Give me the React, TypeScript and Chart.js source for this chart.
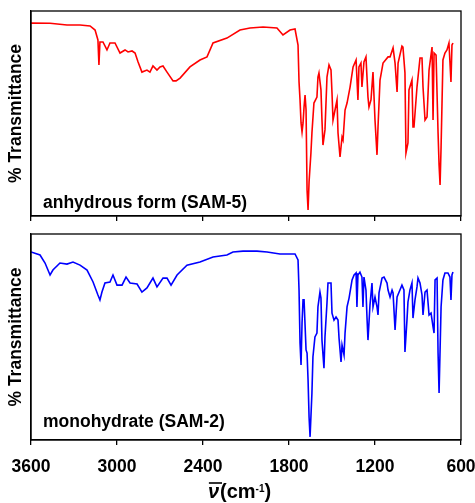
import React, { useEffect, useRef } from "react";
import { Chart, registerables } from "chart.js";

Chart.register(...registerables);

const FONT = "'Liberation Sans', Arial, sans-serif";

const xTickLabels = [3600, 3000, 2400, 1800, 1200, 600];
const xMin = 600;
const xMax = 3600;

const anhydrousLabel = "anhydrous form (SAM-5)";
const monohydrateLabel = "monohydrate (SAM-2)";
const yTitle = "% Transmittance";

// Anhydrous form (SAM-5) — wavenumber (cm-1) and % transmittance (arbitrary scale 0-100)
const anhydrousWavenumber = [
  3600, 3467, 3349, 3258, 3188, 3153, 3133, 3126, 3119, 3098, 3070, 3049, 3014, 2979, 2944, 2923,
  2895, 2874, 2853, 2826, 2791, 2770, 2749, 2721, 2700, 2679, 2651, 2609, 2588, 2560, 2491, 2421,
  2372, 2330, 2233, 2142, 2072, 1981, 1884, 1842, 1793, 1758, 1737, 1730, 1723, 1716, 1709, 1702,
  1695, 1688, 1681, 1674, 1667, 1660, 1647, 1640, 1626, 1605, 1598, 1591, 1577, 1570, 1563, 1549,
  1535, 1521, 1507, 1500, 1493, 1479, 1465, 1458, 1444, 1430, 1423, 1409, 1395, 1374, 1353, 1332,
  1319, 1312, 1298, 1291, 1277, 1263, 1249, 1242, 1228, 1214, 1200, 1186, 1179, 1165, 1144, 1109,
  1095, 1074, 1060, 1046, 1039, 1012, 1005, 991, 984, 970, 963, 942, 935, 928, 907, 886,
  872, 865, 851, 837, 823, 802, 795, 788, 774, 760, 753, 746, 739, 726, 712, 698,
  684, 670, 663, 656,
];
const anhydrousT = [
  94.1, 94.0, 93.2, 93.2, 92.7, 90.7, 85.9, 73.7, 84.9, 84.9, 81.0, 84.4, 84.4, 79.5, 81.0, 80.0,
  80.5, 79.5, 75.1, 70.2, 71.2, 70.2, 73.2, 71.2, 72.7, 73.2, 70.2, 65.9, 65.9, 67.3, 72.7, 76.1,
  77.6, 84.4, 86.8, 90.7, 91.7, 92.2, 91.7, 88.3, 90.7, 91.2, 83.4, 65.4, 56.6, 45.4, 41.0, 45.4,
  53.2, 59.0, 51.7, 12.7, 2.9, 16.6, 30.7, 40.5, 55.1, 58.0, 67.8, 69.8, 61.5, 46.8, 34.6, 42.0,
  67.8, 73.7, 71.2, 60.0, 46.8, 51.7, 56.6, 40.5, 28.8, 38.5, 37.1, 51.7, 55.1, 62.9, 72.7, 76.1,
  56.6, 72.7, 74.6, 62.9, 75.1, 77.6, 58.0, 53.2, 56.6, 70.2, 46.8, 29.8, 43.4, 66.3, 74.6, 77.6,
  77.6, 82.0, 74.6, 60.5, 74.6, 82.9, 82.4, 69.8, 30.7, 35.6, 61.5, 66.3, 43.4, 43.4, 62.9, 77.1,
  77.1, 62.9, 46.8, 48.3, 71.2, 82.4, 46.8, 79.5, 78.5, 40.5, 24.9, 15.1, 33.7, 76.1, 79.5, 81.0,
  84.4, 65.4, 83.4, 84.4,
];

// Monohydrate (SAM-2)
const monohydrateWavenumber = [
  3600, 3537, 3502, 3467, 3447, 3398, 3349, 3307, 3258, 3209, 3167, 3133, 3119, 3105, 3084, 3049,
  3028, 3000, 2965, 2937, 2909, 2860, 2826, 2791, 2749, 2721, 2679, 2651, 2623, 2581, 2512, 2421,
  2330, 2233, 2191, 2121, 2023, 1953, 1863, 1758, 1737, 1730, 1723, 1716, 1709, 1702, 1695, 1681,
  1674, 1667, 1660, 1653, 1640, 1633, 1619, 1605, 1598, 1584, 1577, 1570, 1556, 1549, 1535, 1528,
  1507, 1500, 1486, 1472, 1458, 1451, 1437, 1430, 1416, 1409, 1395, 1381, 1360, 1346, 1332, 1326,
  1319, 1305, 1291, 1284, 1277, 1263, 1256, 1249, 1235, 1221, 1214, 1200, 1186, 1179, 1172, 1151,
  1137, 1116, 1109, 1095, 1081, 1074, 1060, 1053, 1046, 1026, 1012, 998, 991, 977, 970, 956,
  942, 935, 921, 907, 900, 886, 872, 865, 851, 837, 823, 809, 795, 788, 781, 767,
  760, 753, 739, 726, 712, 691, 677, 670, 663, 656,
];
const monohydrateT = [
  91.3, 89.8, 85.9, 80.1, 82.5, 85.9, 85.4, 86.4, 84.9, 82.5, 76.7, 70.4, 68.0, 71.8, 76.2, 76.7,
  80.1, 75.2, 75.2, 79.1, 76.2, 75.7, 71.8, 73.8, 78.6, 74.3, 78.6, 78.6, 75.2, 80.1, 84.9, 86.4,
  88.8, 89.8, 91.3, 91.7, 91.7, 91.3, 90.3, 90.3, 87.4, 72.8, 47.1, 36.4, 56.8, 68.0, 68.0, 43.7,
  42.2, 29.1, 11.2, 1.5, 22.8, 40.3, 50.0, 51.9, 64.6, 71.8, 68.9, 48.5, 34.9, 50.0, 66.5, 76.2,
  76.2, 61.6, 58.2, 59.7, 58.2, 49.5, 37.9, 46.1, 41.3, 51.9, 64.6, 68.9, 77.7, 80.1, 81.1, 64.6,
  80.1, 81.5, 79.1, 64.6, 79.1, 72.8, 59.7, 48.5, 65.5, 76.2, 64.6, 69.4, 64.6, 60.7, 71.4, 78.6,
  79.1, 76.2, 72.8, 69.4, 72.8, 71.4, 53.4, 61.6, 69.4, 72.8, 75.2, 72.8, 42.7, 58.2, 67.0, 72.8,
  76.2, 59.2, 68.0, 74.3, 78.6, 76.2, 70.4, 60.7, 71.8, 72.8, 60.7, 61.6, 54.9, 51.9, 77.7, 78.6,
  42.2, 22.8, 64.6, 77.7, 81.1, 81.1, 79.1, 68.0, 80.1, 81.5,
];

type PanelProps = {
  wavenumbers: number[];
  values: number[];
  color: string;
  label: string;
  width: number;
  height: number;
  padTop: number;
  xAxisHeight: number;
  showTickLabels: boolean;
  labelOffset: number;
  showXTitle: boolean;
};

function Panel(props: PanelProps) {
  const ref = useRef<HTMLCanvasElement | null>(null);
  useEffect(() => {
    const canvas = ref.current;
    if (!canvas) return;
    const data = props.wavenumbers.map((w, i) => ({ x: w, y: props.values[i] }));

    const overlay = {
      id: "overlay",
      afterDraw(chart: any) {
        const { ctx, chartArea } = chart;
        ctx.save();
        ctx.strokeStyle = "#000";
        ctx.lineWidth = 1.3;
        ctx.strokeRect(chartArea.left, chartArea.top, chartArea.right - chartArea.left, chartArea.bottom - chartArea.top);
        ctx.fillStyle = "#000";
        ctx.font = `bold 17.5px ${FONT}`;
        ctx.textAlign = "left";
        ctx.textBaseline = "alphabetic";
        ctx.fillText(props.label, chartArea.left + 12, chartArea.bottom - props.labelOffset);
        if (props.showXTitle) {
          const baseline = chartArea.bottom + 58;
          const centerX = (chartArea.left + chartArea.right) / 2 - 6.5;
          const fItal = `italic bold 20px ${FONT}`;
          const fMain = `bold 20px ${FONT}`;
          const fSup = `bold 10px ${FONT}`;
          ctx.font = fItal;
          const wNu = ctx.measureText("\u03bd").width;
          ctx.font = fMain;
          const wA = ctx.measureText("(cm").width;
          const wC = ctx.measureText(")").width;
          ctx.font = fSup;
          const wB = ctx.measureText("-1").width;
          const total = wNu + 1 + wA + wB + wC;
          let x = centerX - total / 2;
          ctx.font = fItal;
          ctx.fillText("\u03bd", x, baseline);
          ctx.beginPath();
          ctx.lineWidth = 1.6;
          ctx.moveTo(x + 1, baseline - 15);
          ctx.lineTo(x + wNu + 3, baseline - 15);
          ctx.stroke();
          x += wNu + 1;
          ctx.font = fMain;
          ctx.fillText("(cm", x, baseline);
          x += wA;
          ctx.font = fSup;
          ctx.fillText("-1", x, baseline - 6);
          x += wB;
          ctx.font = fMain;
          ctx.fillText(")", x, baseline);
        }
        ctx.restore();
      },
    };

    const chart = new Chart(canvas, {
      type: "line",
      data: {
        datasets: [
          {
            data,
            borderColor: props.color,
            borderWidth: 1.6,
            pointRadius: 0,
            tension: 0,
            fill: false,
          },
        ],
      },
      options: {
        responsive: false,
        animation: false,
        devicePixelRatio: 1,
        layout: { padding: { top: props.padTop, right: 14, left: 0, bottom: 0 } },
        plugins: { legend: { display: false }, tooltip: { enabled: false } },
        scales: {
          x: {
            type: "linear",
            reverse: true,
            min: xMin,
            max: xMax,
            afterFit: (axis: any) => {
              axis.height = props.xAxisHeight;
              axis.paddingLeft = 0;
              axis.paddingRight = 0;
            },
            ticks: {
              display: props.showTickLabels,
              stepSize: 600,
              autoSkip: false,
              maxRotation: 0,
              padding: 12,
              color: "#000",
              font: { family: FONT, size: 17.5, weight: "bold" },
              callback: (v: any) => (xTickLabels.includes(Number(v)) ? String(v) : ""),
            },
            grid: {
              display: true,
              drawOnChartArea: false,
              drawTicks: true,
              tickLength: 5,
              color: "#000",
              lineWidth: 1.3,
            },
            border: { display: true, color: "#000", width: 1.3 },
          },
          y: {
            type: "linear",
            min: 0,
            max: 100,
            afterFit: (axis: any) => {
              axis.width = 31;
            },
            ticks: { display: false },
            grid: { display: false, drawTicks: false },
            border: { display: true, color: "#000", width: 1.3 },
            title: {
              display: true,
              text: yTitle,
              color: "#000",
              font: { family: FONT, size: 17.5, weight: "bold" },
              padding: { top: 6, bottom: 0 },
            },
          },
        },
      },
      plugins: [overlay],
    } as any);
    return () => chart.destroy();
  }, []);
  return <canvas ref={ref} width={props.width} height={props.height} style={{ display: "block" }} />;
}

export default function App() {
  return (
    <div style={{ position: "fixed", left: 0, top: 0, width: 475, height: 503, background: "#fff" }}>
      <Panel
        wavenumbers={anhydrousWavenumber}
        values={anhydrousT}
        color="#ff0000"
        label={anhydrousLabel}
        width={475}
        height={225}
        padTop={11}
        xAxisHeight={9}
        showTickLabels={false}
        labelOffset={8.5}
        showXTitle={false}
      />
      <Panel
        wavenumbers={monohydrateWavenumber}
        values={monohydrateT}
        color="#0000ff"
        label={monohydrateLabel}
        width={475}
        height={278}
        padTop={9}
        xAxisHeight={63}
        showTickLabels={true}
        labelOffset={13}
        showXTitle={true}
      />
    </div>
  );
}
